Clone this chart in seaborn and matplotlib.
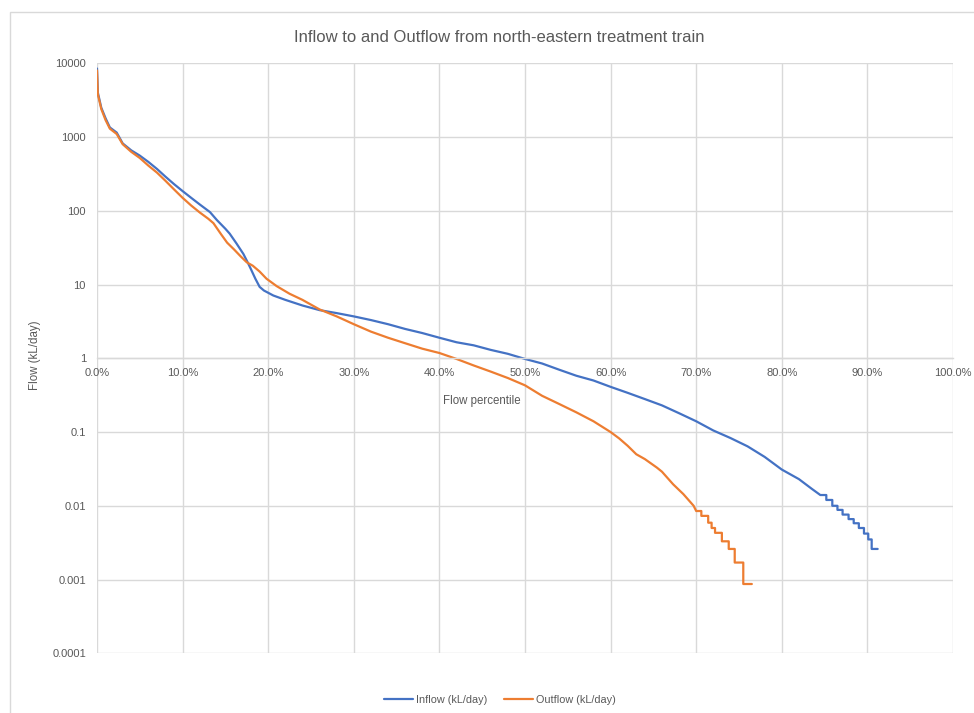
import numpy as np
import pandas as pd
import matplotlib
matplotlib.use("Agg")
import matplotlib.pyplot as plt
import seaborn as sns
from matplotlib.patches import Rectangle
from matplotlib.ticker import FixedLocator, FuncFormatter

# ---- flow duration data (percentile of time exceeded, flow in kL/day) ----
inflow_pct = [0.0, 0.1, 0.5, 1.0, 1.5, 2.3, 3.0, 4.0, 5.0, 6.0, 7.0, 8.0, 9.0,
              10.0, 11.0, 12.0, 13.2, 14.0, 15.0, 15.5, 16.3, 17.1, 17.6, 18.0,
              18.5, 19.0, 19.5, 20.6, 22.0, 24.0, 26.0, 28.0, 30.0, 32.0, 34.0,
              36.0, 38.0, 40.0, 42.0, 44.0, 46.0, 48.0, 50.0, 52.0, 54.0, 56.0,
              58.0, 60.0, 62.0, 64.0, 66.0, 68.0, 70.0, 72.0, 74.0, 76.0, 78.0,
              80.0, 82.0, 83.5, 84.5]
inflow_flow = [8500, 4000, 2500, 1800, 1350, 1150, 820, 660, 560, 460, 370, 290,
               230, 185, 150, 122, 96, 75, 57, 49, 36, 26, 20, 16, 12, 9.3, 8.3,
               7.1, 6.2, 5.2, 4.5, 4.1, 3.7, 3.3, 2.9, 2.5, 2.2, 1.9, 1.65, 1.5,
               1.3, 1.15, 0.98, 0.85, 0.7, 0.58, 0.5, 0.41, 0.34, 0.28, 0.23,
               0.18, 0.14, 0.105, 0.083, 0.064, 0.046, 0.031, 0.023, 0.017, 0.014]
# low-flow tail recorded at gauge resolution (step levels)
inflow_step_pct = [85.2, 85.9, 86.5, 87.1, 87.8, 88.4, 89.0, 89.6, 90.1, 90.5, 91.2]
inflow_step_flow = [0.012, 0.010, 0.0088, 0.0076, 0.0066, 0.0058, 0.0050,
                    0.0042, 0.0035, 0.0026, 0.0026]

outflow_pct = [0.0, 0.1, 0.5, 1.0, 1.5, 2.3, 3.0, 4.0, 5.0, 6.0, 7.0, 8.0, 9.0,
               10.0, 11.0, 12.0, 13.0, 13.6, 14.5, 15.2, 16.0, 16.8, 17.5, 18.2,
               19.0, 19.8, 21.0, 22.5, 24.0, 26.0, 28.0, 30.0, 32.0, 34.0, 36.0,
               38.0, 40.0, 42.0, 44.0, 46.0, 48.0, 50.0, 52.0, 54.0, 56.0, 58.0,
               60.0, 61.0, 62.0, 63.0, 64.0, 65.4, 66.0, 67.3, 68.5, 69.7, 70.0]
outflow_flow = [8000, 3800, 2400, 1700, 1300, 1100, 800, 630, 520, 410, 330, 255,
                195, 150, 118, 95, 78, 68, 48, 37, 30, 24, 20, 18, 15, 12, 9.5,
                7.5, 6.2, 4.6, 3.7, 2.9, 2.3, 1.9, 1.6, 1.35, 1.18, 0.98, 0.8,
                0.66, 0.54, 0.43, 0.31, 0.24, 0.185, 0.14, 0.1, 0.082, 0.065,
                0.05, 0.043, 0.033, 0.029, 0.0196, 0.0144, 0.010, 0.0085]
outflow_step_pct = [70.6, 71.4, 71.8, 72.2, 73.0, 73.8, 74.5, 75.5, 76.5]
outflow_step_flow = [0.0073, 0.0059, 0.0050, 0.0043, 0.0033, 0.0026, 0.0017,
                     0.00087, 0.00087]

x_ticks = [0, 10, 20, 30, 40, 50, 60, 70, 80, 90, 100]
y_ticks = [1e-4, 1e-3, 1e-2, 1e-1, 1, 10, 100, 1000, 10000]

series_names = ["Inflow (kL/day)", "Outflow (kL/day)"]
series_colors = ["#4472C4", "#ED7D31"]


def with_steps(pct, flow, step_pct, step_flow):
    """Append a stepped tail: each level starts with a vertical drop."""
    xs, ys = list(pct), list(flow)
    for sx, sy in zip(step_pct, step_flow):
        xs += [sx, sx]
        ys += [ys[-1], sy]
    return xs, ys


frames = []
for name, p, f, sp, sf in [
    (series_names[0], inflow_pct, inflow_flow, inflow_step_pct, inflow_step_flow),
    (series_names[1], outflow_pct, outflow_flow, outflow_step_pct, outflow_step_flow),
]:
    xs, ys = with_steps(p, f, sp, sf)
    frames.append(pd.DataFrame({"pct": xs, "flow": ys, "series": name,
                                "order": np.arange(len(xs))}))
df = pd.concat(frames, ignore_index=True)

sns.set_theme(style="white")
plt.rcParams["font.family"] = ["Liberation Sans", "DejaVu Sans"]

W, H = 974, 713
fig = plt.figure(figsize=(W / 100, H / 100), dpi=100)
ax = fig.add_axes([97 / W, 1 - 653.3 / H, (953 - 97) / W, (653.3 - 63.3) / H])

grid_c = "#D9D9D9"
text_c = "#595959"

ax.set_yscale("log")
ax.set_xlim(0, 100)
ax.set_ylim(1e-4, 1e4)

for name, color in zip(series_names, series_colors):
    sub = df[df["series"] == name]
    sns.lineplot(data=sub, x="pct", y="flow", ax=ax, sort=False, estimator=None,
                 color=color, linewidth=1.6, label=name, legend=False)

ax.xaxis.set_major_locator(FixedLocator(x_ticks))
ax.yaxis.set_major_locator(FixedLocator(y_ticks))
ax.yaxis.set_minor_locator(FixedLocator([]))
ax.xaxis.set_major_formatter(FuncFormatter(lambda v, _: f"{v:.1f}%"))
ax.yaxis.set_major_formatter(FuncFormatter(lambda v, _: f"{v:g}"))
ax.grid(True, which="major", color=grid_c, linewidth=1.0)
ax.set_axisbelow(True)

for s in ["top", "right", "left"]:
    ax.spines[s].set_visible(False)
ax.spines["bottom"].set_position(("data", 1))
ax.spines["bottom"].set_color(grid_c)
ax.spines["bottom"].set_linewidth(1.0)

ax.tick_params(axis="both", length=0, labelsize=8, labelcolor=text_c)
ax.tick_params(axis="x", pad=7)
ax.tick_params(axis="y", pad=8)
ax.set_xlabel("")
ax.set_ylabel("")

fig.text(499 / W, 1 - 38 / H, "Inflow to and Outflow from north-eastern treatment train",
         ha="center", va="center", fontsize=12, color=text_c)
fig.text(482 / W, 1 - 401 / H, "Flow percentile", ha="center", va="center",
         fontsize=8.3, color=text_c)
fig.text(35 / W, 1 - 355 / H, "Flow (kL/day)", ha="center", va="center",
         rotation=90, fontsize=8.3, color=text_c)

handles = [plt.Line2D([], [], color=c, linewidth=1.6) for c in series_colors]
fig.legend(handles, series_names, loc="center", bbox_to_anchor=(500 / W, 1 - 700 / H),
           ncol=2, frameon=False, fontsize=7.8, handlelength=2.6, handletextpad=0.3,
           columnspacing=1.6, labelcolor=text_c)

fig.add_artist(Rectangle((10 / W, -0.05), 1.1, 1.05 - 12 / H, transform=fig.transFigure,
                         fill=False, edgecolor=grid_c, linewidth=1.0))

fig.savefig("out.png", dpi=100, facecolor="white")
